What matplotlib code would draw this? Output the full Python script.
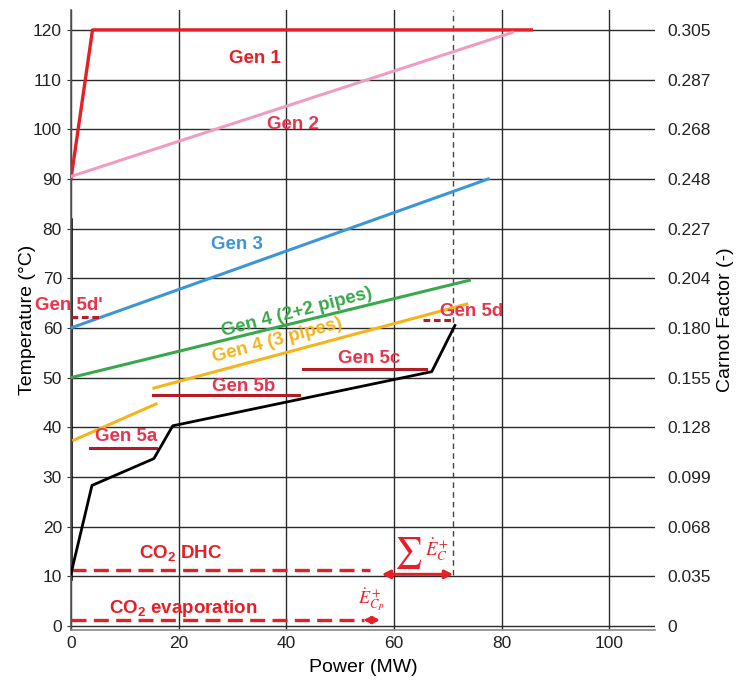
import matplotlib
matplotlib.use("Agg")
import matplotlib.pyplot as plt

plt.rcParams['font.family'] = ['Liberation Sans', 'DejaVu Sans']
plt.rcParams['mathtext.fontset'] = 'custom'
plt.rcParams['mathtext.rm'] = 'Liberation Sans:bold'
plt.rcParams['mathtext.bf'] = 'Liberation Sans:bold'
plt.rcParams['mathtext.it'] = 'Liberation Sans:bold'

# ---- data ----
gen1_x = [0, 4, 85.5]
gen1_y = [90, 120, 120]
gen2_x = [0, 82]
gen2_y = [90.5, 119.5]
gen3_x = [0, 77.5]
gen3_y = [60, 90]
gen4a_x = [0, 74]
gen4a_y = [50, 69.6]
gen4b1_x = [0.5, 15.8]
gen4b1_y = [37.4, 44.7]
gen4b2_x = [15.4, 73.5]
gen4b2_y = [47.9, 64.8]
co2_x = [0, 3.9, 15.4, 18.9, 67, 71.3]
co2_y = [10.5, 28.3, 33.7, 40.3, 51.2, 60.5]
gen5_segments = {  # name: (x0, x1, y)
    'Gen 5a': (3.5, 15.8, 35.8),
    'Gen 5b': (15.2, 42.3, 46.5),
    'Gen 5c': (43.0, 66.0, 51.7),
}
gen5_dashed = {
    'Gen 5d': (65.3, 70.7, 61.6),
    "Gen 5d'": (0.0, 5.4, 62.2),
}
dhc_x = [0, 55.5]
dhc_y = 11.3
evap_x = [0, 54.5]
evap_y = 1.2
total_power = 71.0
yticks = [0, 10, 20, 30, 40, 50, 60, 70, 80, 90, 100, 110, 120]
carnot_labels = ['0', '0.035', '0.068', '0.099', '0.128', '0.155', '0.180',
                 '0.204', '0.227', '0.248', '0.268', '0.287', '0.305']
xticks = [0, 20, 40, 60, 80, 100]

RED = '#e61e25'
LRED = '#e8334c'
DRED = '#b31c26'
PINK = '#ee9cc4'
BLUE = '#3b96d8'
GREEN = '#38a84a'
YELLOW = '#f4b41a'

fig = plt.figure(figsize=(7.37, 6.87), dpi=100)
ax = fig.add_axes([0.0963, 0.083, 0.7927, 0.9024])
ax.set_xlim(0, 108.5)
ax.set_ylim(-0.8, 124)

# grid
for yv in yticks:
    ax.axhline(yv, color='#2a2a2a', lw=1.0, zorder=0.5)
for xv in xticks:
    ax.axvline(xv, color='#2a2a2a', lw=1.0, zorder=0.5)

for s in ['top', 'right']:
    ax.spines[s].set_visible(False)
ax.spines['left'].set_color('#555555')
ax.spines['bottom'].set_color('#888888')
ax.spines['left'].set_linewidth(1.2)
ax.spines['bottom'].set_linewidth(1.2)
ax.plot([0, 0], [9.5, 82], color='black', lw=1.8, zorder=1)

ax.set_xticks(xticks)
ax.set_yticks(yticks)
ax.tick_params(axis='both', labelsize=12.5, length=3, color='#333333',
               labelcolor='#222222')
ax.tick_params(axis='x', length=0, pad=4)

# lines
ax.plot(gen1_x, gen1_y, color=RED, lw=2.4, zorder=3)
ax.plot(gen2_x, gen2_y, color=PINK, lw=2.2, zorder=3)
ax.plot(gen3_x, gen3_y, color=BLUE, lw=2.2, zorder=3)
ax.plot(gen4a_x, gen4a_y, color=GREEN, lw=2.2, zorder=3)
ax.plot(gen4b1_x, gen4b1_y, color=YELLOW, lw=2.2, zorder=3)
ax.plot(gen4b2_x, gen4b2_y, color=YELLOW, lw=2.2, zorder=3)
ax.plot(co2_x, co2_y, color='black', lw=2.0, zorder=4)

for name, (x0, x1, yv) in gen5_segments.items():
    ax.plot([x0, x1], [yv, yv], color=DRED, lw=2.2, zorder=3)
for name, (x0, x1, yv) in gen5_dashed.items():
    ax.plot([x0, x1], [yv, yv], color=DRED, lw=2.2, ls=(0, (2.2, 1.2)), zorder=3)

ax.plot(dhc_x, [dhc_y, dhc_y], color=RED, lw=2.4, ls=(0, (4.5, 2.2)), zorder=3)
ax.plot(evap_x, [evap_y, evap_y], color=RED, lw=2.4, ls=(0, (4.5, 2.2)), zorder=3)

ax.plot([total_power, total_power], [10.3, 124], color='#444444', lw=1.0,
        ls=(0, (4, 3)), zorder=2)

# arrows
ax.annotate('', xy=(57.7, 10.4), xytext=(total_power, 10.4),
            arrowprops=dict(arrowstyle='<|-|>', color=RED, lw=2.2,
                            mutation_scale=12, shrinkA=0, shrinkB=0), zorder=5)
ax.annotate('', xy=(54.3, evap_y), xytext=(57.4, evap_y),
            arrowprops=dict(arrowstyle='<|-|>', color=RED, lw=2.0,
                            mutation_scale=10, shrinkA=0, shrinkB=0), zorder=5)

# labels
bold = dict(fontweight='bold', ha='center', va='center', fontsize=13.5)
ax.text(34.1, 114.3, 'Gen 1', color=RED, **bold)
ax.text(41.2, 101.0, 'Gen 2', color=LRED, **bold)
ax.text(30.8, 76.7, 'Gen 3', color=BLUE, **bold)
ax.text(41.9, 63.2, 'Gen 4 (2+2 pipes)', color=GREEN, rotation=14.5,
        rotation_mode='anchor', **bold)
ax.text(38.4, 57.5, 'Gen 4 (3 pipes)', color=YELLOW, rotation=15,
        rotation_mode='anchor', **bold)
ax.text(10.2, 38.1, 'Gen 5a', color=LRED, **bold)
ax.text(32.0, 48.2, 'Gen 5b', color=LRED, **bold)
ax.text(55.3, 53.8, 'Gen 5c', color=LRED, **bold)
ax.text(74.4, 63.3, 'Gen 5d', color=LRED, **bold)
ax.text(-0.3, 64.6, "Gen 5d'", color=LRED, clip_on=False, **bold)
ax.text(20.4, 14.6, r'CO$_\mathbf{2}$ DHC', color=RED, **bold)
ax.text(20.9, 3.6, r'CO$_\mathbf{2}$ evaporation', color=RED, **bold)

ax.text(62.6, 14.6, r'$\sum$', color=RED, ha='center', va='center',
        fontsize=22, math_fontfamily='stix')
ax.text(67.9, 15.4, r'$\dot{E}_C^+$', color=RED, ha='center', va='center',
        fontsize=13.5, math_fontfamily='stix')
ax.text(55.9, 5.3, r'$\dot{E}_{C_P}^+$', color=RED, ha='center', va='center',
        fontsize=13, math_fontfamily='stix')

ax.set_xlabel('Power (MW)', fontsize=14, labelpad=6)
ax.set_ylabel('Temperature (°C)', fontsize=14, labelpad=-2)

# right axis
ax2 = ax.twinx()
ax2.set_ylim(ax.get_ylim())
ax2.set_yticks(yticks)
ax2.set_yticklabels(carnot_labels)
ax2.tick_params(axis='y', labelsize=12.5, length=0, pad=9, labelcolor='#222222')
for s in ax2.spines.values():
    s.set_visible(False)
ax2.set_ylabel('Carnot Factor (-)', fontsize=14, labelpad=4)

fig.savefig('out.png', dpi=100)
